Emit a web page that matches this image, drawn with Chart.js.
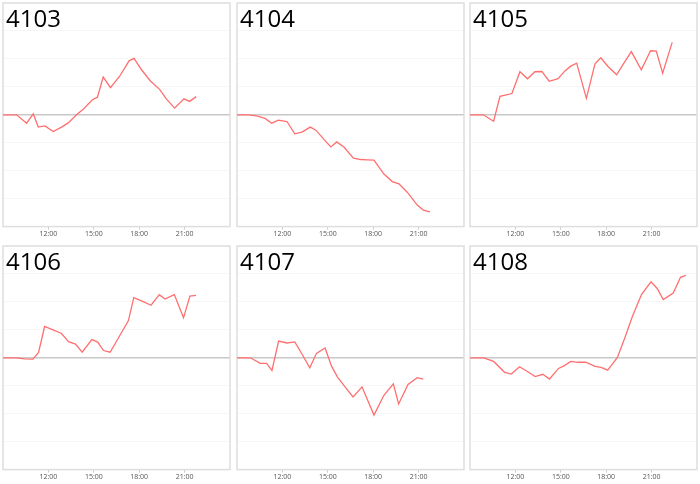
<!DOCTYPE html>
<html>
<head>
<meta charset="utf-8">
<script src="https://cdn.jsdelivr.net/npm/chart.js"></script>
<style>
body{margin:0;background:#fff;width:700px;height:484px;position:relative;overflow:hidden}
.cell{position:absolute;width:233px;height:243px}
.cell canvas{position:absolute;left:0;top:0}
.title{position:absolute;left:6px;top:6px;font:24px/24px "Open Sans",sans-serif;color:#000}
</style>
</head>
<body>
<script>
const d = document;

const names = ['4103','4104','4105','4106','4107','4108'];

// horas (decimal) y variación de cada gráfico
const t4103 = [9.0,9.9,10.56,11.0,11.33,11.77,12.32,12.87,13.31,13.86,14.3,14.91,15.24,15.62,16.1,16.71,17.33,17.66,18.14,18.74,19.35,19.79,20.34,20.96,21.33,21.77];
const v4103 = [0,0,-0.3,0.03,-0.44,-0.4,-0.6,-0.44,-0.29,0,0.2,0.54,0.63,1.35,0.97,1.38,1.93,2.02,1.62,1.21,0.91,0.57,0.24,0.57,0.48,0.65];

const t4104 = [9.0,9.81,10.36,10.85,11.29,11.73,12.3,12.82,13.29,13.84,14.21,14.76,15.2,15.59,16.08,16.69,17.18,17.62,18.05,18.71,19.26,19.7,20.25,20.91,21.31,21.75];
const v4104 = [0,0,-0.05,-0.13,-0.3,-0.19,-0.24,-0.68,-0.62,-0.44,-0.55,-0.89,-1.15,-0.97,-1.16,-1.55,-1.6,-1.61,-1.62,-2.12,-2.39,-2.47,-2.77,-3.23,-3.41,-3.47];

const t4105 = [9.0,9.88,10.56,10.98,11.77,12.3,12.8,13.29,13.75,14.23,14.82,15.29,15.66,16.05,16.69,17.26,17.64,18.12,18.69,19.18,19.66,20.32,20.93,21.31,21.73,22.36];
const v4105 = [0,0,-0.23,0.66,0.76,1.54,1.29,1.54,1.55,1.2,1.29,1.58,1.74,1.85,0.59,1.82,2.04,1.73,1.43,1.86,2.26,1.61,2.29,2.28,1.49,2.59];

const t4106 = [9.0,9.88,10.43,10.98,11.35,11.75,12.3,12.85,13.33,13.79,14.23,14.87,15.26,15.64,16.08,16.69,17.29,17.64,18.23,18.78,19.33,19.7,20.32,20.93,21.35,21.75];
const v4106 = [0,0,-0.04,-0.05,0.19,1.12,1.0,0.88,0.58,0.49,0.2,0.65,0.56,0.26,0.2,0.77,1.33,2.15,2.02,1.88,2.26,2.1,2.26,1.43,2.21,2.23];

const t4107 = [9.0,9.88,10.54,10.96,11.31,11.75,12.3,12.82,13.33,13.81,14.25,14.82,15.24,15.64,16.14,16.67,17.26,18.05,18.71,19.33,19.68,20.3,20.91,21.31];
const v4107 = [0,0,-0.2,-0.2,-0.45,0.6,0.53,0.57,0.1,-0.36,0.16,0.35,-0.29,-0.69,-1.04,-1.4,-1.04,-2.05,-1.34,-0.93,-1.65,-0.95,-0.71,-0.76];

const t4108 = [9.0,9.9,10.56,11.29,11.73,12.27,12.82,13.31,13.81,14.25,14.85,15.24,15.66,16.1,16.65,17.26,17.66,18.1,18.74,19.24,19.73,20.34,20.96,21.37,21.77,22.43,22.91,23.26];
const v4108 = [0,0,-0.13,-0.52,-0.58,-0.32,-0.5,-0.67,-0.59,-0.76,-0.38,-0.28,-0.13,-0.16,-0.16,-0.31,-0.34,-0.44,0.01,0.73,1.48,2.27,2.72,2.48,2.08,2.32,2.88,2.95];

const hourTicks = [12,15,18,21];

const times = [t4103,t4104,t4105,t4106,t4107,t4108];
const values = [v4103,v4104,v4105,v4106,v4107,v4108];

const cellLeft = [0,234,467], cellTop = [0,243];

// marco alrededor del área
const frame = {
    id:'frame',
    beforeDatasetsDraw(c){
        const a = c.chartArea, ctx = c.ctx;
        ctx.save();
        ctx.strokeStyle = '#dedede';
        ctx.lineWidth = 1.5;
        ctx.strokeRect(a.left,a.top,a.right-a.left,a.bottom-a.top);
        ctx.restore();
    }
};

names.forEach((name,i)=>{
    const cell = d.createElement('div');
    cell.className = 'cell';
    cell.style.left = cellLeft[i%3]+'px';
    cell.style.top = cellTop[Math.floor(i/3)]+'px';
    const cv = d.createElement('canvas');
    cv.width = 233; cv.height = 243;
    cell.appendChild(cv);
    const title = d.createElement('div');
    title.className = 'title';
    title.textContent = name;
    cell.appendChild(title);
    d.body.appendChild(cell);

    new Chart(cv.getContext('2d'),{
        type:'line',
        data:{
            datasets:[{
                data: times[i].map((x,k)=>({x:x,y:values[i][k]})),
                borderColor:'#ff6f6f',
                borderWidth:1.3,
                pointRadius:0,
                tension:0,
                fill:false
            }]
        },
        options:{
            responsive:false,
            animation:false,
            layout:{padding:{left:3,right:3,top:3,bottom:5}},
            plugins:{legend:{display:false},tooltip:{enabled:false}},
            scales:{
                x:{
                    type:'linear', min:9, max:24,
                    afterBuildTicks:(a)=>{ a.ticks = hourTicks.map(h=>({value:h})); },
                    grid:{drawOnChartArea:false, drawTicks:true, tickLength:3, color:'#cccccc'},
                    border:{display:false},
                    ticks:{padding:0, color:'#555', autoSkip:false, maxRotation:0,
                        font:{family:'Open Sans', size:7},
                        callback:(v)=> v+':00'}
                },
                y:{
                    min:-4, max:4,
                    ticks:{display:false, stepSize:1},
                    grid:{drawTicks:false,
                        color:(c)=> c.tick.value===0 ? '#c8c8c8' : '#f6f6f6',
                        lineWidth:(c)=> c.tick.value===0 ? 1.5 : 1},
                    border:{display:false}
                }
            }
        },
        plugins:[frame]
    });
});
</script>
</body>
</html>
